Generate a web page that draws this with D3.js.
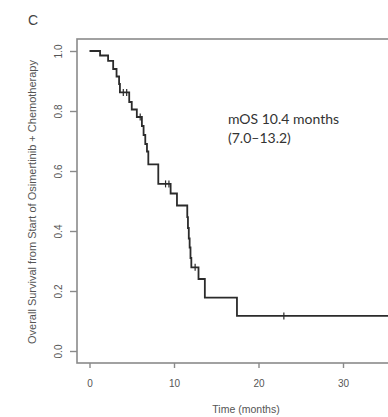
<!DOCTYPE html>
<html>
<head>
<meta charset="utf-8">
<script src="https://cdn.jsdelivr.net/npm/d3@7"></script>
<style>
  body { margin: 0; background: #fff; }
  svg { display: block; }
</style>
</head>
<body>
<div id="chart"></div>
<script>
// KM step function: time of each drop (months) and survival after it
const eventTimes = [0, 1.25, 2.2, 2.8, 3.2, 3.5, 3.6, 4.7, 5.0, 5.6, 6.2, 6.4, 6.6, 6.8, 6.96, 8.14, 9.6, 10.35, 11.57, 11.65, 11.75, 11.85, 11.95, 12.05, 12.9, 13.65, 17.45];
const survival   = [1, 0.985, 0.967, 0.94, 0.915, 0.89, 0.862, 0.83, 0.805, 0.78, 0.75, 0.72, 0.69, 0.665, 0.622, 0.557, 0.525, 0.485, 0.446, 0.41, 0.375, 0.345, 0.31, 0.279, 0.24, 0.178, 0.117];
const lastTime = 37;
const censorTimes = [4.0, 4.4, 6.0, 9.0, 9.4, 12.5, 23.0];

const xTicks = [0, 10, 20, 30];
const yTicks = [0, 0.2, 0.4, 0.6, 0.8, 1.0];
const yLabel = "Overall Survival from Start of Osimertinib + Chemotherapy";
const xLabel = "Time (months)";
const noteLines = ["mOS 10.4 months", "(7.0\u201313.2)"];

const width = 388, height = 417;
const box = { left: 77, top: 39, bottom: 363 };

// R-style 4% padding on both axes
const x = d3.scaleLinear([-0.04 * lastTime, lastTime * 1.04], [box.left, box.left + 8.45 * lastTime * 1.08]);
const y = d3.scaleLinear([-0.04, 1.04], [box.bottom, box.top]);

const svg = d3.select("#chart").append("svg")
    .attr("width", width)
    .attr("height", height)
    .attr("viewBox", [0, 0, width, height]);

const ink = "#2b2b2b";
const axisGrey = "#8a8a8a";
const textGrey = "#555";

// panel letter
svg.append("text")
    .attr("x", 28).attr("y", 25)
    .attr("fill", "#444")
    .style("font", "14px 'Liberation Sans', Arial, sans-serif")
    .text("C");

// plot box
svg.append("rect")
    .attr("x", box.left).attr("y", box.top)
    .attr("width", x.range()[1] - box.left)
    .attr("height", box.bottom - box.top)
    .attr("fill", "none")
    .attr("stroke", axisGrey)
    .attr("stroke-width", 1.6);

// x axis
const gx = svg.append("g")
    .attr("transform", `translate(0,${box.bottom})`)
    .call(d3.axisBottom(x).tickValues(xTicks).tickSize(5).tickPadding(12).tickFormat(d3.format("d")));
gx.select(".domain").remove();
gx.selectAll("line").attr("stroke", axisGrey).attr("stroke-width", 1.4);
gx.selectAll("text")
    .attr("fill", textGrey)
    .style("font", "10px 'Liberation Sans', Arial, sans-serif");

// y axis
const gy = svg.append("g")
    .attr("transform", `translate(${box.left},0)`)
    .call(d3.axisLeft(y).tickValues(yTicks).tickSize(7).tickFormat(d3.format(".1f")));
gy.select(".domain").remove();
gy.selectAll("line").attr("stroke", axisGrey).attr("stroke-width", 1.4);
gy.selectAll("text")
    .attr("x", null).attr("dy", null)
    .attr("fill", textGrey)
    .attr("text-anchor", "middle")
    .attr("dominant-baseline", "central")
    .attr("transform", "translate(-19,0) rotate(-90)")
    .style("font", "10px 'Liberation Sans', Arial, sans-serif");

// axis titles
svg.append("text")
    .attr("transform", `translate(32,${(box.top + box.bottom) / 2 + 1}) rotate(-90)`)
    .attr("text-anchor", "middle")
    .attr("dominant-baseline", "central")
    .attr("fill", textGrey)
    .style("font", "11px 'Liberation Sans', Arial, sans-serif")
    .text(yLabel);

svg.append("text")
    .attr("x", 246).attr("y", 413)
    .attr("text-anchor", "middle")
    .attr("fill", textGrey)
    .style("font", "10.5px 'Liberation Sans', Arial, sans-serif")
    .text(xLabel);

// survival curve
const steps = eventTimes.map((t, i) => [t, survival[i]]);
steps.push([lastTime, survival[survival.length - 1]]);

svg.append("path")
    .datum(steps)
    .attr("fill", "none")
    .attr("stroke", ink)
    .attr("stroke-width", 1.8)
    .attr("d", d3.line().x(d => x(d[0])).y(d => y(d[1])).curve(d3.curveStepAfter));

// censor marks
const survAt = t => survival[d3.bisectRight(eventTimes, t) - 1];
svg.append("g")
    .attr("stroke", ink)
    .attr("stroke-width", 1.2)
    .selectAll("line")
    .data(censorTimes)
    .join("line")
    .attr("x1", d => x(d)).attr("x2", d => x(d))
    .attr("y1", d => y(survAt(d)) - 3.5)
    .attr("y2", d => y(survAt(d)) + 3.5);

// median annotation
svg.append("g")
    .attr("fill", "#333")
    .style("font", "14px Lato, 'Open Sans', sans-serif")
    .selectAll("text")
    .data(noteLines)
    .join("text")
    .attr("x", 228)
    .attr("y", (d, i) => 124 + i * 19)
    .text(d => d);
</script>
</body>
</html>
